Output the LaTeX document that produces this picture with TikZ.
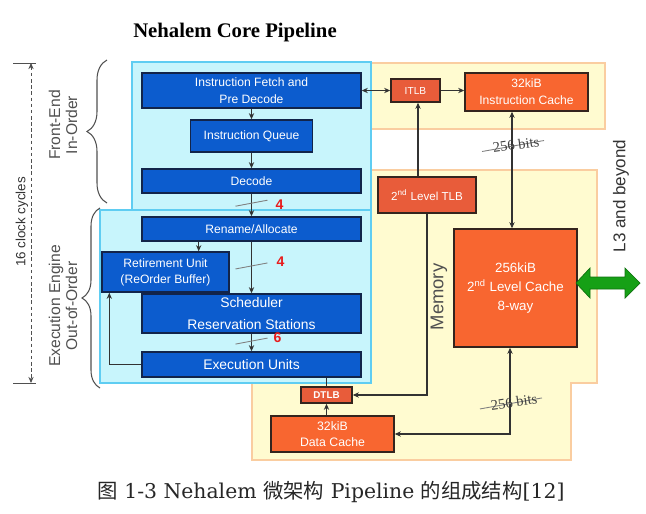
\documentclass[tikz,border=0pt]{standalone}
\usepackage{fontspec}
\setmainfont{Liberation Serif}
\setsansfont{Liberation Sans}
\newfontfamily\cjk{Noto Sans CJK SC}
\newfontfamily\capfont{DejaVu Serif}
\usepackage{xcolor}
\usepackage{tikz}
\usetikzlibrary{arrows.meta,positioning,decorations.pathreplacing}
\definecolor{stageblue}{RGB}{12,92,206}
\definecolor{stageline}{RGB}{18,36,74}
\definecolor{coreblue}{RGB}{200,245,252}
\definecolor{coreline}{RGB}{95,205,242}
\definecolor{memyellow}{RGB}{255,251,208}
\definecolor{memline}{RGB}{250,205,160}
\definecolor{cacheorange}{RGB}{248,102,48}
\definecolor{tlbred}{RGB}{232,92,58}
\definecolor{boxline}{RGB}{52,36,30}
\definecolor{linkgray}{RGB}{50,50,50}
\definecolor{lanered}{RGB}{232,28,28}
\definecolor{labelgray}{RGB}{80,80,80}
\definecolor{busgreen}{RGB}{22,160,22}
\tikzset{
    stage/.style = {rectangle, inner sep=0pt, text centered, align=center, draw=stageline, line width=0.8pt, fill=stageblue, text=white, font=\sffamily\fontsize{6.9}{9.6}\selectfont},
    bigstage/.style = {stage, font=\sffamily\fontsize{7.9}{12.4}\selectfont},
    cache/.style = {rectangle, inner sep=0pt, text centered, align=center, draw=boxline, line width=0.8pt, fill=cacheorange, text=white, font=\sffamily\fontsize{6.9}{9.6}\selectfont},
    tlb/.style = {cache, fill=tlbred},
    corezone/.style = {fill=coreblue, draw=coreline, line width=0.8pt},
    memzone/.style = {fill=memyellow, draw=memline, line width=0.8pt},
    flow/.style = {->, draw=linkgray, line width=0.7pt},
    buswidth/.style = {draw=gray, line width=0.5pt},
    lanecount/.style = {text=lanered, font=\sffamily\bfseries\fontsize{8}{8}\selectfont},
    busnote/.style = {text=black!75, font=\fontsize{8.3}{8.3}\selectfont, rotate=8},
    sidelabel/.style = {rotate=90, align=center, text=labelgray, font=\sffamily\fontsize{8.9}{9.6}\selectfont},
    >={Stealth[length=3.5pt,width=3pt]}
}

\begin{document}
\begin{tikzpicture}[x=0.02cm, y=-0.02cm]
    \useasboundingbox (0,0) rectangle (646,514);

    % memory and core areas
    \path[memzone] (370,63) rectangle (605,129);
    \path[memzone] (370,170) -- (597,170) -- (597,383) -- (571,383) -- (571,460) -- (252,460) -- (252,383) -- (370,383) -- cycle;
    \path[corezone] (132,62) rectangle (371,210);
    \path[corezone] (100,210) rectangle (371,383);

    \node [font=\bfseries\fontsize{11.8}{12}\selectfont] (title) at (235,33) {Nehalem Core Pipeline};

    % pipeline stages
    \node [stage, minimum width=4.38cm, minimum height=0.7cm] (fetch) at (251.5,90.5) {Instruction Fetch and\\Pre Decode};
    \node [stage, minimum width=2.44cm, minimum height=0.64cm] (iqueue) at (251.5,136) {Instruction Queue};
    \node [stage, minimum width=4.38cm, minimum height=0.48cm] (decode) at (251.5,181) {Decode};
    \node [stage, minimum width=4.38cm, minimum height=0.48cm] (rename) at (251.5,229) {Rename/Allocate};
    \node [stage, minimum width=2.54cm, minimum height=0.8cm, font=\sffamily\fontsize{6.9}{9}\selectfont] (retire) at (165.5,272) {Retirement Unit\\(ReOrder Buffer)};
    \node [bigstage, minimum width=4.38cm, minimum height=0.78cm] (sched) at (251.5,313.5) {Scheduler\\Reservation Stations};
    \node [bigstage, minimum width=4.38cm, minimum height=0.5cm] (exec) at (251.5,364.5) {Execution Units};

    % memory side
    \node [tlb, minimum width=0.98cm, minimum height=0.46cm, font=\sffamily\fontsize{5.8}{6}\selectfont] (itlb) at (415.5,90.5) {ITLB};
    \node [cache, minimum width=2.46cm, minimum height=0.76cm] (icache) at (526.5,92) {32kiB\\Instruction Cache};
    \node [tlb, minimum width=1.96cm, minimum height=0.72cm, font=\sffamily\fontsize{6.6}{8}\selectfont] (tlb2) at (427,195) {2\textsuperscript{nd} Level TLB};
    \node [cache, minimum width=2.46cm, minimum height=2.36cm, font=\sffamily\fontsize{7.6}{11}\selectfont] (l2) at (515.5,288) {256kiB\\2\textsuperscript{nd} Level Cache\\8-way};
    \node [tlb, minimum width=1.02cm, minimum height=0.32cm, font=\sffamily\bfseries\fontsize{5.6}{6}\selectfont] (dtlb) at (326.5,395) {DTLB};
    \node [cache, minimum width=2.46cm, minimum height=0.72cm, font=\sffamily\fontsize{7}{9}\selectfont] (dcache) at (332.5,434) {32kiB\\Data Cache};

    % in-order front end
    \draw [flow] (fetch) -- (iqueue);
    \draw [flow] (iqueue) -- (decode);
    \draw [flow] (decode) -- coordinate[pos=0.42] (w1) (rename);
    \draw [buswidth] ([shift={(-16,3)}]w1) -- ([shift={(16,-3)}]w1);
    \node [lanecount] at ([shift={(28,1)}]w1) {4};

    % out-of-order engine
    \draw [flow] ([xshift=-0.62cm]retire.north east |- rename.south) -- ([xshift=-0.62cm]retire.north east);
    \draw [flow] (rename) -- coordinate[pos=0.47] (w2) (sched);
    \draw [buswidth] ([shift={(-16,3)}]w2) -- ([shift={(16,-3)}]w2);
    \node [lanecount] at ([shift={(29,-4)}]w2) {4};
    \draw [flow] (sched) -- coordinate[pos=0.42] (w3) (exec);
    \draw [buswidth] ([shift={(-16,3)}]w3) -- ([shift={(16,-3)}]w3);
    \node [lanecount] at ([shift={(26,-3)}]w3) {6};
    \draw [flow] (exec.west) -| ([xshift=0.16cm]retire.south west);

    % memory links
    \draw [flow, <->] (fetch.east) -- (itlb.west);
    \draw [flow] (itlb.east) -- (icache.west |- itlb.east);
    \draw [flow] ([xshift=-0.18cm]tlb2.north) -- ([xshift=-0.18cm]tlb2.north |- itlb.south);
    \draw [flow, <->] ([xshift=-0.07cm]l2.north) -- coordinate[pos=0.71] (bus1) ([xshift=-0.07cm]l2.north |- icache.south);
    \draw [buswidth] ([shift={(-30,6)}]bus1) -- ([shift={(32,-5)}]bus1);
    \node [busnote] at ([shift={(4,-1)}]bus1) {256 bits};
    \draw [flow] (tlb2.south) |- (dtlb.east);
    \draw [draw=linkgray, line width=0.7pt] (exec.south -| dtlb.north) -- (dtlb.north);
    \draw [flow] (dcache.north -| dtlb.south) -- (dtlb.south);
    \draw [flow, <->] (dcache.east) -| coordinate[pos=0.68] (bus2) ([xshift=-0.11cm]l2.south);
    \draw [buswidth] ([shift={(-30,6)}]bus2) -- ([shift={(32,-5)}]bus2);
    \node [busnote] at ([shift={(4,-1)}]bus2) {256 bits};

    % to L3
    \fill [busgreen, draw=busgreen!70!black, line width=0.4pt] (576,283) -- (590,268) -- (590,277) -- (625,277) -- (625,268) -- (640,283) -- (625,298) -- (625,289) -- (590,289) -- (590,298) -- cycle;
    \node [rotate=90, text=black!80, font=\sffamily\fontsize{9.7}{10}\selectfont] (beyond) at (621,196) {L3 and beyond};
    \node [rotate=90, text=labelgray, font=\sffamily\fontsize{10.5}{11}\selectfont] (memory) at (439,297) {Memory};

    % braces and side labels
    \draw [labelgray, line width=0.6pt, decorate, decoration={brace, amplitude=0.4cm}] (107,203) -- (107,60);
    \draw [labelgray, line width=0.6pt, decorate, decoration={brace, amplitude=0.36cm}] (100,388) -- (100,208);
    \node [sidelabel] (frontend) at (63,125) {Front-End\\In-Order};
    \node [sidelabel] (engine) at (63,306) {Execution Engine\\Out-of-Order};

    % clock cycles
    \coordinate (ctop) at (31,63);
    \coordinate (cbot) at (31,383);
    \draw [labelgray, line width=0.5pt] (13,63) -- (36,63);
    \draw [labelgray, line width=0.5pt] (13,383) -- (36,383);
    \draw [<->, labelgray, line width=0.5pt, dashed, dash pattern=on 2pt off 1.5pt] (ctop) -- (cbot);
    \node [fill=white, inner sep=1pt, rotate=90, text=black!80, font=\sffamily\fontsize{7.6}{8}\selectfont] (cycles) at (22,222) {16 clock cycles};

    \node [text=black!85, font=\capfont\fontsize{11.6}{13}\selectfont] (caption) at (331,492) {{\cjk 图} 1-3 Nehalem {\cjk 微架构} Pipeline {\cjk 的组成结构}[12]};
\end{tikzpicture}
\end{document}
